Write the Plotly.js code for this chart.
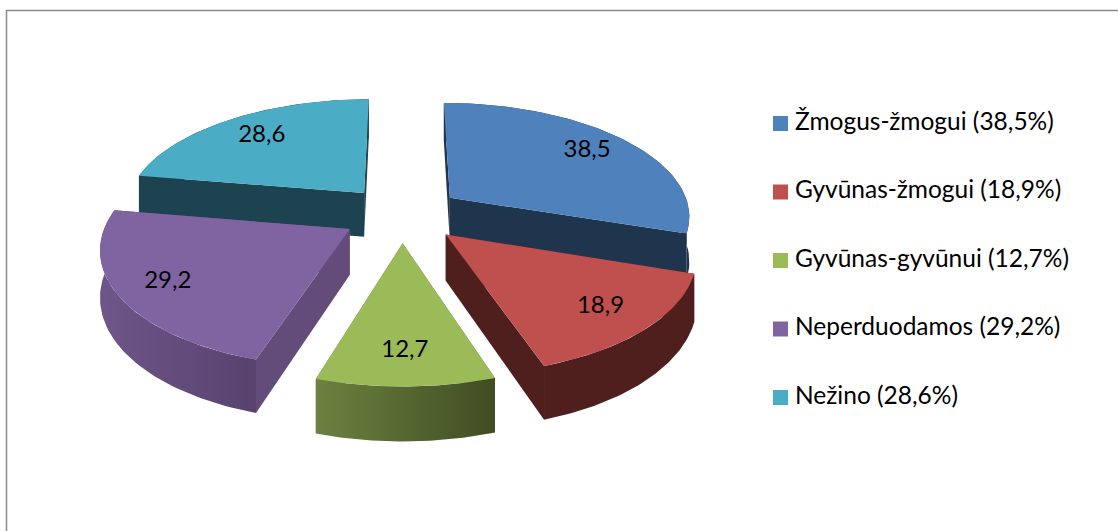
<!DOCTYPE html>
<html><head><meta charset="utf-8">
<script src="https://cdn.plot.ly/plotly-3.0.0.min.js"></script>
<style>html,body{margin:0;padding:0;background:#fff}#c{width:1118px;height:531px}</style>
</head><body><div id="c"></div>
<script>
const categories = ["Žmogus-žmogui","Gyvūnas-žmogui","Gyvūnas-gyvūnui","Neperduodamos","Nežino"];
const values = [38.5,18.9,12.7,29.2,28.6];
const topColors = ["#4F81BD","#C0504D","#9BBB59","#8064A2","#4BACC6"];
const radialColors = ["#1F344D","#4F1F1D","#5F7436","#644C7A","#1E4350"];
const wallLeft = ["#1F344D","#4F1F1D","#6C8240","#6E5689","#1E4350"];
const wallRight = ["#1F344D","#4F1F1D","#404C22","#57426E","#1E4350"];
const labelRadius = [0.78,0.79,0.78,0.80,0.75];
const drawOrder = [4,0,3,1,2];

const fmt = v => v.toFixed(1).replace('.',',');
const CX=402, CY=214, A=241, B=113, K=0.145, E=0.25, D=45;
function proj(u,v,h){
  const p=1/(1-K*v);
  return [CX+A*u*p, CY+B*v*p+(h?D*p:0)];
}
const total=values.reduce((a,b)=>a+b,0);
let cum=0;
const slices=values.map((val,i)=>{
  const s=cum/total*2*Math.PI; cum+=val; const e=cum/total*2*Math.PI; const m=(s+e)/2;
  return {i,s,e,m,ou:E*Math.sin(m),ov:-E*Math.cos(m)};
});
function rim(sl,t){return [sl.ou+Math.sin(t), sl.ov-Math.cos(t)];}
function poly(points,color,grad){
  const t={type:'scatter',mode:'lines',x:points.map(p=>p[0]),y:points.map(p=>p[1]),fill:'toself',
    line:{width:0,color:color},fillcolor:color,hoverinfo:'skip',showlegend:false};
  if(grad){t.fillgradient={type:'horizontal',colorscale:[[0,grad[0]],[1,grad[1]]]};}
  return t;
}
const traces=[];
const N=60;
drawOrder.forEach(idx=>{
  const sl=slices[idx];
  const arc=[];
  for(let j=0;j<=N;j++){arc.push(rim(sl,sl.s+(sl.e-sl.s)*j/N));}
  const tip=[sl.ou,sl.ov];
  const first=arc[0], last=arc[N];
  const face=(a,b)=>[proj(a[0],a[1],0),proj(b[0],b[1],0),proj(b[0],b[1],1),proj(a[0],a[1],1)];
  traces.push(poly(face(tip,first),radialColors[idx]));
  traces.push(poly(face(tip,last),radialColors[idx]));
  const wall=arc.map(a=>proj(a[0],a[1],0)).concat(arc.slice().reverse().map(a=>proj(a[0],a[1],1)));
  traces.push(poly(wall,wallLeft[idx],[wallLeft[idx],wallRight[idx]]));
  const top=[proj(tip[0],tip[1],0)].concat(arc.map(a=>proj(a[0],a[1],0)));
  traces.push(poly(top,topColors[idx]));
});
// value labels
const lab=slices.map(sl=>{const f=labelRadius[sl.i];
  return proj(sl.ou+f*Math.sin(sl.m),sl.ov-f*Math.cos(sl.m),0);});
traces.push({type:'scatter',mode:'text',x:lab.map(p=>p[0]),y:lab.map(p=>p[1]),
  text:values.map(fmt),textposition:'middle center',
  textfont:{family:'Lato, "Open Sans", sans-serif',size:24,color:'#000'},hoverinfo:'skip',showlegend:false});
// legend
const LEGY=categories.map((c,i)=>123.5+i*68.5);
traces.push({type:'scatter',mode:'markers',x:categories.map(()=>780.5),y:LEGY,
  marker:{symbol:'square',size:15,color:topColors,line:{width:0}},hoverinfo:'skip',showlegend:false});
traces.push({type:'scatter',mode:'text',x:categories.map(()=>795),y:LEGY,
  text:categories.map((c,i)=>c+' ('+fmt(values[i])+'%)'),textposition:'middle right',
  textfont:{family:'Lato, "Open Sans", sans-serif',size:24.5,color:'#000'},hoverinfo:'skip',showlegend:false});

Plotly.newPlot('c',traces,{
  width:1118,height:531,margin:{l:0,r:0,t:0,b:0},paper_bgcolor:'#fff',plot_bgcolor:'#fff',showlegend:false,
  xaxis:{range:[0,1118],visible:false,fixedrange:true},
  yaxis:{range:[531,0],visible:false,fixedrange:true},
  shapes:[
    {type:'line',xref:'x',yref:'y',x0:6,x1:1118,y0:10.5,y1:10.5,line:{color:'#8A8A8A',width:1.5},layer:'below'},
    {type:'line',xref:'x',yref:'y',x0:6.5,x1:6.5,y0:10,y1:531,line:{color:'#8A8A8A',width:1.5},layer:'below'}
  ]
},{displayModeBar:false,staticPlot:true});
</script></body></html>
